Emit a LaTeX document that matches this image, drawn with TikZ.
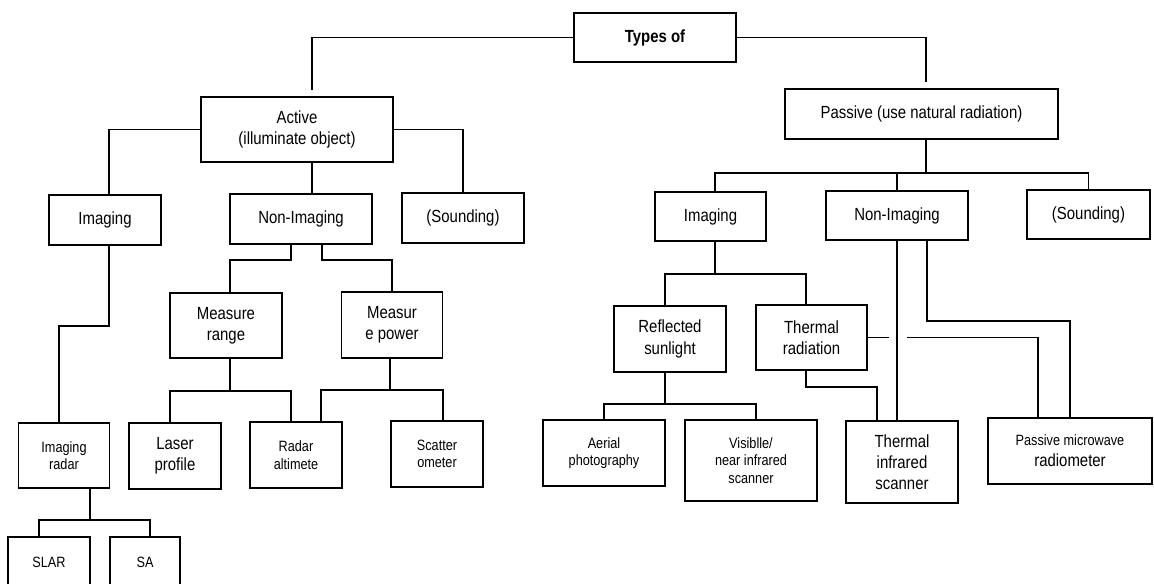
\documentclass[tikz,border=0pt]{standalone}
\usepackage{fontspec}
\setmainfont{Liberation Sans}[FakeStretch=0.85]
\usepackage{tikz}
\usetikzlibrary{calc,positioning}

\begin{document}
\begin{tikzpicture}[x=0.02cm, y=-0.02cm,
		box/.style={draw, line width=1.1pt, align=center, inner sep=1pt, font=\fontsize{10}{12}\selectfont},
		small/.style={font=\fontsize{8.5}{10}\selectfont},
		sz/.style 2 args={minimum width=#1*0.02cm, minimum height=#2*0.02cm},
		link/.style={line width=1.1pt}]
		\useasboundingbox (0,0) rectangle (1154,584);
		\clip (0,0) rectangle (1154,584);

		\node[box, sz={162}{49}] (types) at (655,37.5) {\textbf{Types of}};
		\node[box, sz={192}{65}] (active) at (297,129.5) {Active\\(illuminate object)};
		\node[box, sz={273}{50}] (passive) at (921.5,114) {Passive (use natural radiation)};

		\node[box, sz={112}{50}] (aimg) at (105,220) {Imaging};
		\node[box, sz={142}{50}] (anon) at (301,219) {Non-Imaging};
		\node[box, sz={122}{50}] (asnd) at (463,218) {(Sounding)};
		\node[box, sz={112}{65}] (mrange) at (226,325.5) {Measure\\range};
		\node[box, sz={101}{66}] (mpower) at (392,325) {Measur\\e power};
		\node[box, small, sz={91}{65}] (imradar) at (64,455.5) {Imaging\\radar};
		\node[box, sz={92}{66}] (laser) at (175,456) {Laser\\profile};
		\node[box, small, sz={92}{66}] (radalt) at (296,455) {Radar\\altimete};
		\node[box, small, sz={92}{66}] (scatter) at (437,454) {Scatter\\ometer};
		\node[box, small, sz={82}{50}] (slar) at (49,562) {SLAR};
		\node[box, small, sz={70}{50}] (sar) at (145,562) {SA};

		\node[box, sz={111}{49}] (pimg) at (710.5,216.5) {Imaging};
		\node[box, sz={142}{49}] (pnon) at (897,215.5) {Non-Imaging};
		\node[box, sz={123}{49}] (psnd) at (1088.5,214.5) {(Sounding)};
		\node[box, sz={112}{66}] (refl) at (670,339) {Reflected\\sunlight};
		\node[box, sz={111}{65}] (therm) at (811.5,337.5) {Thermal\\radiation};
		\node[box, small, sz={122}{66}] (aerial) at (604,453) {Aerial\\photography};
		\node[box, small, sz={132}{81}] (visible) at (751,460.5) {Visiblle/\\near infrared\\scanner};
		\node[box, sz={112}{82}] (tirs) at (902,462) {Thermal\\infrared\\scanner};
		\node[box, sz={164}{66}] (pmw) at (1070,451) {{\fontsize{8.5}{10}\selectfont Passive microwave}\\radiometer};

		% top level
		\draw[link] (types.west) -| ($(active.north)+(15,-6)$);
		\draw[link] (types.east) -| ($(passive.north)+(4.5,-6)$);

		% active branch
		\draw[link] (active.west) -| ($(aimg.north)+(4,0)$);
		\draw[link] ($(active.south)+(15,0)$) -- ($(anon.north)+(11,0)$);
		\draw[link] (active.east) -| (asnd.north);
		\draw[link] ($(anon.south)+(-10,0)$) -- ++(0,15) -| ($(mrange.north)+(4,0)$);
		\draw[link] ($(anon.south)+(21,0)$) -- ++(0,15) -| (mpower.north);
		\draw[link] ($(aimg.south)+(4,0)$) -- ++(0,80) -| ($(imradar.north)+(-5,0)$);
		\draw[link] ($(mrange.south)+(4,0)$) -- ++(0,32) coordinate (mrj);
		\draw[link] ($(laser.north)+(-5,0)$) |- (mrj) -| ($(radalt.north)+(-5,0)$);
		\draw[link] ($(mpower.south)+(-2,0)$) -- ++(0,31) coordinate (mpj);
		\draw[link] ($(radalt.north)+(25,0)$) |- (mpj) -| ($(scatter.north)+(6,0)$);
		\draw[link] ($(imradar.south)+(26,0)$) -- ++(0,31) coordinate (irj);
		\draw[link] ($(slar.north)+(-10,0)$) |- (irj) -| ($(sar.north)+(5,0)$);

		% passive branch
		\draw[link] ($(passive.south)+(4.5,0)$) -- ++(0,33) coordinate (pj);
		\draw[link] ($(pimg.north)+(4.5,0)$) |- (pj) -| (psnd.north);
		\draw[link] (pnon.north) -- (pnon.north |- pj);
		\draw[link] ($(pimg.south)+(4.5,0)$) -- ++(0,32) coordinate (pij);
		\draw[link] ($(refl.north)+(-5,0)$) |- (pij) -| ($(therm.north)+(-5.5,0)$);
		\draw[link] ($(refl.south)+(-5,0)$) -- ++(0,31) coordinate (rj);
		\draw[link] (aerial.north) |- (rj) -| ($(visible.north)+(5,0)$);
		\draw[link] ($(therm.south)+(-5.5,0)$) -- ++(0,16) -| ($(tirs.north)+(-25,0)$);
		\draw[link] (pnon.south) -- ($(tirs.north)+(-5,0)$);
		\draw[link] ($(pnon.south)+(30,0)$) -- ++(0,80) -| (pmw.north);
		\draw[link] (therm.east) -- ++(21,0);
		\draw[link] ($(therm.east)+(39,0)$) -| ($(pmw.north)+(-32,0)$);
	\end{tikzpicture}
\end{document}
